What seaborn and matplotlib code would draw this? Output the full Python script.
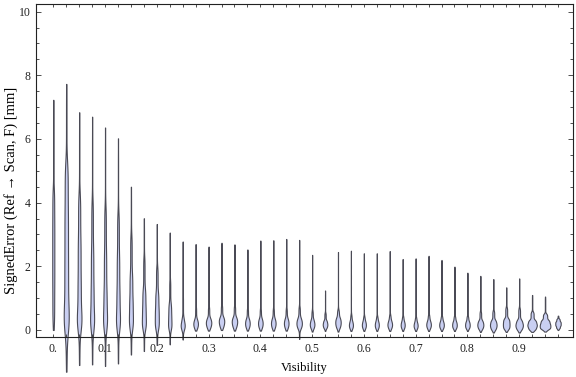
import numpy as np
import pandas as pd
import matplotlib
matplotlib.use("Agg")
import matplotlib.pyplot as plt
import seaborn as sns

# ---------------- data ----------------
visibility = [0.0, 0.025, 0.05, 0.075, 0.1, 0.125, 0.15, 0.175, 0.2, 0.225,
              0.25, 0.275, 0.3, 0.325, 0.35, 0.375, 0.4, 0.425, 0.45, 0.475,
              0.5, 0.525, 0.55, 0.575, 0.6, 0.625, 0.65, 0.675, 0.7, 0.725,
              0.75, 0.775, 0.8, 0.825, 0.85, 0.875, 0.9, 0.925, 0.95, 0.975]

# estimated distribution summaries of the signed error per visibility bin [mm]
err_min = [0.00, -1.31, -1.10, -1.08, -1.13, -1.05, -0.77, -0.66, -0.47, -0.45,
           -0.30, -0.02, -0.02, 0.00, -0.02, -0.02, -0.02, -0.02, -0.02, -0.28,
           -0.05, -0.03, -0.05, -0.03, -0.03, -0.03, -0.03, -0.03, -0.03, -0.03,
           -0.03, -0.03, -0.03, -0.06, -0.08, -0.06, -0.08, -0.06, -0.05, 0.00]
err_q05 = [0.30, -0.10, 0.00, 0.00, 0.00, 0.00, 0.00, 0.00, 0.00, 0.00,
           -0.02, 0.04, 0.05, 0.07, 0.06, 0.05, 0.05, 0.05, 0.05, 0.03,
           0.04, 0.05, 0.05, 0.04, 0.04, 0.04, 0.04, 0.04, 0.03, 0.04,
           0.04, 0.04, 0.04, 0.02, 0.00, 0.02, 0.00, 0.00, 0.02, 0.05]
err_q25 = [1.30, 0.70, 0.50, 0.45, 0.45, 0.45, 0.40, 0.30, 0.30, 0.20,
           0.10, 0.14, 0.16, 0.19, 0.18, 0.15, 0.15, 0.15, 0.15, 0.14,
           0.13, 0.13, 0.16, 0.11, 0.11, 0.11, 0.12, 0.11, 0.10, 0.12,
           0.11, 0.11, 0.11, 0.11, 0.10, 0.12, 0.10, 0.10, 0.10, 0.13]
err_med = [2.40, 2.20, 1.60, 1.40, 1.30, 1.30, 1.00, 0.75, 0.70, 0.50,
           0.20, 0.23, 0.26, 0.30, 0.29, 0.25, 0.25, 0.25, 0.25, 0.25,
           0.22, 0.21, 0.27, 0.19, 0.19, 0.19, 0.20, 0.19, 0.17, 0.20,
           0.19, 0.19, 0.19, 0.20, 0.20, 0.24, 0.20, 0.20, 0.20, 0.20]
err_q75 = [3.50, 3.80, 2.90, 2.60, 2.50, 2.40, 1.80, 1.30, 1.20, 0.85,
           0.40, 0.35, 0.38, 0.42, 0.41, 0.37, 0.37, 0.37, 0.37, 0.38,
           0.34, 0.31, 0.39, 0.29, 0.28, 0.28, 0.30, 0.28, 0.26, 0.30,
           0.28, 0.28, 0.28, 0.31, 0.32, 0.37, 0.33, 0.32, 0.32, 0.27]
err_q95 = [4.50, 5.30, 4.30, 4.10, 3.90, 3.70, 3.00, 2.30, 2.00, 1.60,
           1.10, 0.75, 0.75, 0.80, 0.78, 0.70, 0.70, 0.70, 0.70, 0.75,
           0.62, 0.55, 0.65, 0.50, 0.45, 0.45, 0.50, 0.45, 0.42, 0.50,
           0.45, 0.45, 0.45, 0.60, 0.62, 0.72, 0.70, 0.58, 0.52, 0.36]
err_max = [7.23, 7.73, 6.84, 6.70, 6.36, 6.02, 4.50, 3.51, 3.33, 3.06,
           2.78, 2.70, 2.62, 2.74, 2.69, 2.53, 2.81, 2.82, 2.86, 2.83,
           2.36, 1.24, 2.45, 2.49, 2.41, 2.41, 2.48, 2.23, 2.25, 2.33,
           2.20, 1.99, 1.80, 1.70, 1.60, 1.34, 1.62, 1.10, 1.05, 0.45]
# estimated number of samples per bin (violin widths scale with it)
n_obs = [62, 150, 138, 120, 120, 120, 120, 120, 120, 102,
         120, 138, 162, 162, 162, 138, 138, 138, 138, 162,
         138, 138, 162, 120, 120, 120, 138, 120, 120, 138,
         138, 138, 138, 180, 198, 198, 222, 282, 318, 162]
quantile_levels = [0.0, 0.05, 0.25, 0.5, 0.75, 0.95, 1.0]

x_tick_vals = [0.0, 0.1, 0.2, 0.3, 0.4, 0.5, 0.6, 0.7, 0.8, 0.9]
x_tick_labels = ["0.", "0.1", "0.2", "0.3", "0.4", "0.5", "0.6", "0.7", "0.8", "0.9"]
y_tick_vals = [0, 2, 4, 6, 8, 10]
y_tick_labels = ["0", "2", "4", "6", "8", "10"]

# ---------------- build long-form sample table ----------------
rows_x, rows_y = [], []
for i, v in enumerate(visibility):
    q = [err_min[i], err_q05[i], err_q25[i], err_med[i], err_q75[i], err_q95[i], err_max[i]]
    n = n_obs[i]
    p = (np.arange(n) + 0.5) / n
    vals = np.interp(p, quantile_levels, q)
    vals[0], vals[-1] = err_min[i], err_max[i]
    rows_x.extend([v] * n)
    rows_y.extend(vals.tolist())
df = pd.DataFrame({"Visibility": rows_x, "SignedError": rows_y})

# ---------------- plot ----------------
plt.rcParams["font.family"] = ["Liberation Serif", "DejaVu Serif"]
fig = plt.figure(figsize=(5.76, 3.77), dpi=100)
ax = fig.add_axes([36 / 576, 1 - 337 / 377, (573 - 36) / 576, (337 - 4) / 377])

fill = "#c9cff2"
edge = "#4a4a55"
sns.violinplot(data=df, x="Visibility", y="SignedError", native_scale=True, orient="x",
               density_norm="count", cut=0, bw_method=0.18, gridsize=300,
               inner=None, width=0.82, color=fill, linecolor=edge, linewidth=0.8,
               saturation=1, ax=ax)
for c in ax.collections:
    c.set_clip_on(False)

ax.set_xlim(-0.0334, 1.004)
ax.set_ylim(-0.22, 10.24)

ax.set_xticks(x_tick_vals, labels=x_tick_labels)
ax.set_xticks(visibility, minor=True)
ax.set_yticks(y_tick_vals, labels=y_tick_labels)
ax.set_yticks(np.arange(0, 10.01, 0.5), minor=True)

ax.tick_params(which="both", direction="in", top=True, right=True, width=0.6,
               color="#333333", labelsize=8.5, labelcolor="#222222", pad=4)
ax.tick_params(axis="x", which="both", length=2.4)
ax.tick_params(axis="y", which="major", length=3.6)
ax.tick_params(axis="y", which="minor", length=2.2)
for s in ax.spines.values():
    s.set_linewidth(0.8)
    s.set_color("#222222")

ax.set_xlabel("Visibility", fontsize=9, labelpad=5)
ax.set_ylabel("SignedError (Ref \u2192 Scan, F) [mm]", fontsize=10.5)
ax.yaxis.set_label_coords(-0.034, 0.44)

fig.savefig("out.png", dpi=100)
